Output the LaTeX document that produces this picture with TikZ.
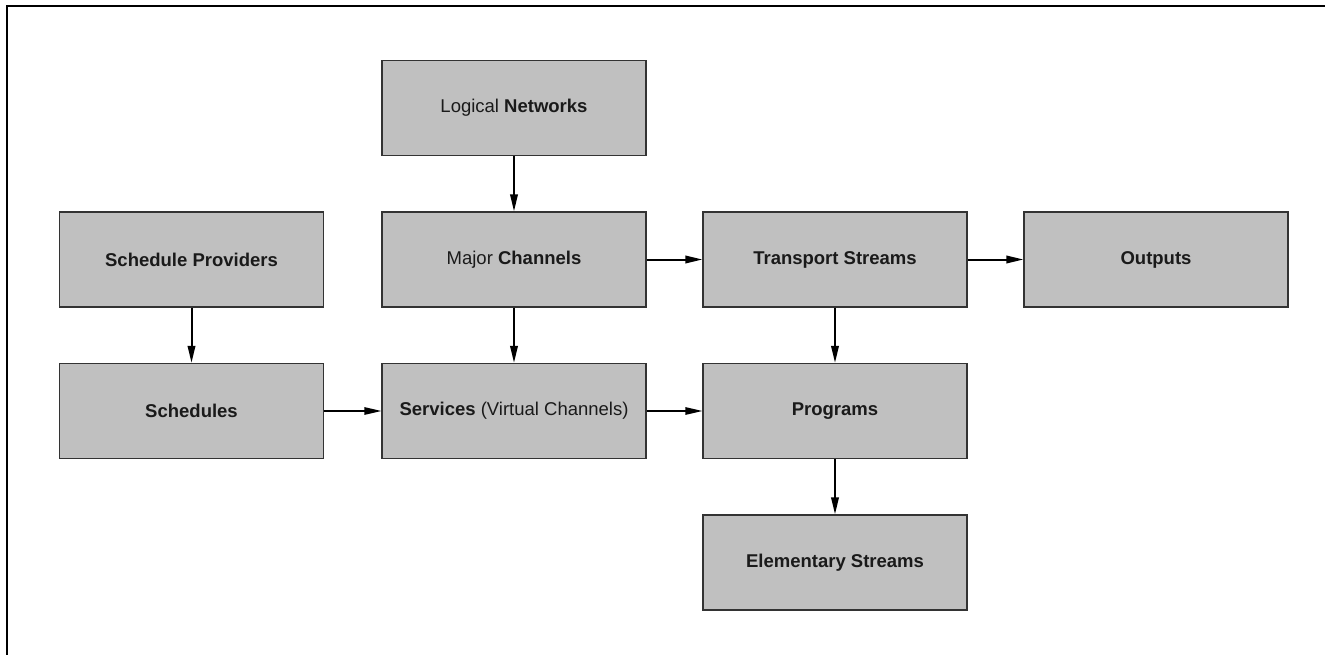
\documentclass[tikz,border=0pt]{standalone}
\usepackage{fontspec}
\setmainfont{Liberation Sans}
\usetikzlibrary{arrows.meta}
\definecolor{boxfill}{HTML}{C0C0C0}
\definecolor{boxline}{HTML}{333333}
\definecolor{txt}{HTML}{1A1A1A}
\begin{document}
\begin{tikzpicture}[x=1pt,y=-1pt,
  box/.style={draw=boxline, fill=boxfill, line width=1.3pt, minimum width=264pt, minimum height=95pt, inner sep=0pt, text=txt, font=\fontsize{18.5}{21}\selectfont},
  thickarrow/.style={line width=2pt, -{Triangle[length=17pt,width=7.5pt]}},
  thinarrow/.style={line width=1.3pt, -{Triangle[length=17pt,width=7.5pt]}}]
\useasboundingbox (0,0) rectangle (1325,655);
\fill[white] (0,0) rectangle (1325,655);
\draw[line width=2pt] (1325,6) -- (7,6) -- (7,655);
\node[box] (ln)  at (514,108)   {Logical \textbf{Networks}};
\node[box] (sp)  at (191.5,259.5) {\textbf{Schedule Providers}};
\node[box] (mc)  at (514,259.5) {Major \textbf{Channels}};
\node[box] (ts)  at (835,259.5) {\textbf{Transport Streams}};
\node[box] (out) at (1156,259.5) {\textbf{Outputs}};
\node[box] (sch) at (191.5,411) {\textbf{Schedules}};
\node[box] (srv) at (514,411)   {\textbf{Services} (Virtual Channels)};
\node[box] (prg) at (835,411) {\textbf{Programs}};
\node[box] (es)  at (835,562.5) {\textbf{Elementary Streams}};
\draw[thickarrow] (ln) -- (mc);
\draw[thickarrow] (sp) -- (sch);
\draw[thickarrow] (mc) -- (srv);
\draw[thickarrow] (ts) -- (prg);
\draw[thickarrow] (prg) -- (es);
\draw[thickarrow] (mc) -- (ts);
\draw[thickarrow] (ts) -- (out);
\draw[thinarrow] (sch) -- (srv);
\draw[thinarrow] (srv) -- (prg);
\end{tikzpicture}
\end{document}
